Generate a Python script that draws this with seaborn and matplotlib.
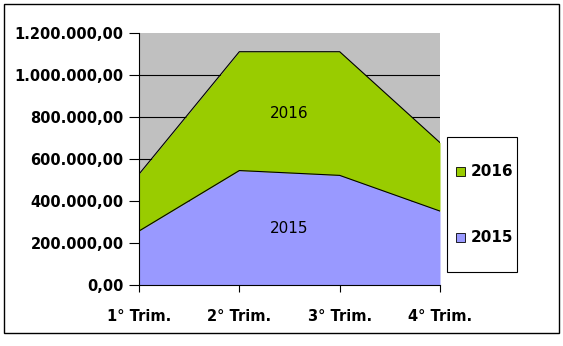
import matplotlib
matplotlib.use("Agg")
import matplotlib.pyplot as plt
import seaborn as sns
import numpy as np
import pandas as pd
from matplotlib.patches import Rectangle
from matplotlib.ticker import FuncFormatter

categories = ["1° Trim.", "2° Trim.", "3° Trim.", "4° Trim."]
values_2015 = [257000, 545000, 522000, 352000]
values_2016 = [271000, 566000, 589000, 326000]
series_names = ["2015", "2016"]
colors = ["#9999FF", "#99CC00"]

sns.set_style("white")
plt.rcParams['font.family'] = ['DejaVu Sans']
plt.rcParams['text.color'] = 'black'
plt.rcParams['xtick.color'] = 'black'
plt.rcParams['ytick.color'] = 'black'

fig = plt.figure(figsize=(5.63, 3.46), dpi=100)
ax = fig.add_axes([139/563, 61/346, 301/563, 252/346])
ax.set_facecolor("#C0C0C0")

x = np.arange(len(categories))
lower = np.array(values_2015, dtype=float)
total = lower + np.array(values_2016, dtype=float)

ax.fill_between(x, 0, lower, color=colors[0], linewidth=0, zorder=2)
ax.fill_between(x, lower, total, color=colors[1], linewidth=0, zorder=2)

df = pd.DataFrame({"x": np.concatenate([x, x]),
                   "y": np.concatenate([lower, total]),
                   "s": ["2015"] * 4 + ["2016"] * 4})
sns.lineplot(data=df, x="x", y="y", units="s", estimator=None, color="black",
             linewidth=0.8, ax=ax, zorder=3, legend=False)

for yv in [200000, 400000, 600000, 800000, 1000000]:
    ax.axhline(yv, color="black", linewidth=0.8, zorder=1)

ax.set_xlim(0, 3)
ax.set_ylim(0, 1200000)
ax.set_xticks(x)
ax.set_xticklabels(categories, fontsize=10.5, fontweight="bold")
ax.set_yticks(np.arange(0, 1200001, 200000))
ax.yaxis.set_major_formatter(FuncFormatter(
    lambda v, p: f"{v:,.2f}".replace(",", "X").replace(".", ",").replace("X", ".")))
for lab in ax.get_yticklabels():
    lab.set_fontsize(10.5)
    lab.set_fontweight("bold")
ax.tick_params(axis="y", direction="out", length=7, width=0.8, color="black",
               left=True, pad=4, labelcolor="black")
ax.tick_params(axis="x", direction="out", length=5, width=0.8, color="black",
               bottom=True, pad=12, labelcolor="black")
ax.set_xlabel("")
ax.set_ylabel("")
for side in ["top", "right"]:
    ax.spines[side].set_visible(False)
for side in ["left", "bottom"]:
    ax.spines[side].set_color("black")
    ax.spines[side].set_linewidth(0.8)

ax.text(1.5, 819000, "2016", ha="center", va="center", fontsize=11, color="black", zorder=4)
ax.text(1.5, 267000, "2015", ha="center", va="center", fontsize=11, color="black", zorder=4)

# legend box
fig.patches.append(Rectangle((447/563, (346-272)/346), 70/563, 135/346,
                             transform=fig.transFigure, facecolor="white",
                             edgecolor="black", linewidth=0.8))
for name, col, yp in [("2016", colors[1], 172), ("2015", colors[0], 238)]:
    fig.patches.append(Rectangle((456/563, (346-yp-4)/346), 9/563, 9/346,
                                 transform=fig.transFigure, facecolor=col,
                                 edgecolor="black", linewidth=0.6))
    fig.text(471/563, (346-yp)/346, name, ha="left", va="center",
             fontsize=11, fontweight="bold", color="black")

# outer border
fig.patches.append(Rectangle((4/563, 13/346), 555/563, 329/346,
                             transform=fig.transFigure, facecolor="none",
                             edgecolor="black", linewidth=1))

fig.savefig("out.png", dpi=100)
